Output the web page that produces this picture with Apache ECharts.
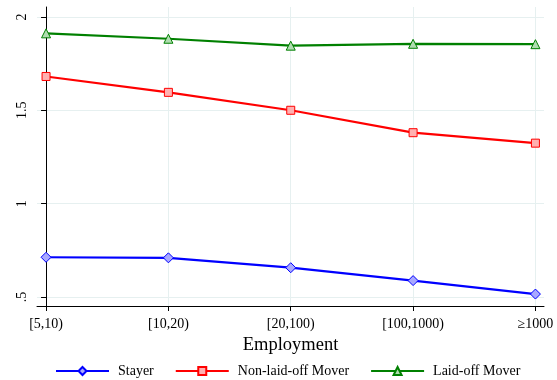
<!DOCTYPE html>
<html><head><meta charset="utf-8">
<script src="https://cdn.jsdelivr.net/npm/echarts@6/dist/echarts.min.js"></script>
<style>html,body{margin:0;padding:0;background:#fff}#c{width:557px;height:380px}</style>
</head><body><div id="c"></div>
<script>
const categories = ['[5,10)', '[10,20)', '[20,100)', '[100,1000)', '\u22651000'];
const stayer = [0.713, 0.710, 0.657, 0.588, 0.516];
const nonLaidOff = [1.681, 1.596, 1.500, 1.380, 1.324];
const laidOff = [1.912, 1.883, 1.846, 1.856, 1.854];
const yTicks = [0.5, 1, 1.5, 2];
const yTickLabels = ['.5', '1', '1.5', '2'];

const font = 'Liberation Serif';
const chart = echarts.init(document.getElementById('c'), null, {renderer: 'canvas'});
function pts(arr){ return arr.map((v,i)=>[i,v]); }
function mk(name, data, color, fill, symbol, size){
  return {name, type:'line', data:pts(data), symbol, symbolSize:size,
    lineStyle:{color, width:2.2}, itemStyle:{color:fill, borderColor:color, borderWidth:1},
    emphasis:{disabled:true}, animation:false, z:3};
}
chart.setOption({
  animation:false,
  backgroundColor:'#fff',
  grid:{left:37, right:13, top:7, bottom:74, containLabel:false},
  xAxis:{type:'value', min:-0.074, max:4.07,
    axisLine:{show:true, lineStyle:{color:'#000', width:1}},
    axisTick:{show:true, length:5, lineStyle:{color:'#000'}, customValues:[0,1,2,3,4]},
    axisLabel:{customValues:[0,1,2,3,4], formatter:v=>categories[Math.round(v)], color:'#000', fontFamily:font, fontSize:14, margin:11},
    splitLine:{show:true, lineStyle:{color:'#e6f0f0', width:1}},
    name:'Employment', nameLocation:'middle', nameGap:21, nameTextStyle:{color:'#000', fontFamily:font, fontSize:18.5}},
  yAxis:{type:'value', min:0.452, max:2.053,
    axisLine:{show:true, lineStyle:{color:'#000', width:1}},
    axisTick:{show:true, length:5, lineStyle:{color:'#000'}, customValues:yTicks},
    axisLabel:{customValues:yTicks, rotate:90, formatter:v=>yTickLabels[yTicks.indexOf(v)] ?? '', color:'#000', fontFamily:font, fontSize:14, margin:8},
    splitLine:{show:true, lineStyle:{color:'#e6f0f0', width:1}}},
  legend:{bottom:-3, left:50, itemWidth:53, itemHeight:10, itemGap:21,
    textStyle:{color:'#000', fontFamily:font, fontSize:14, padding:[0,0,0,4]},
    data:['Stayer','Non-laid-off Mover','Laid-off Mover']},
  series:[
    mk('Stayer', stayer, '#0000ff', '#a8a8ff', 'diamond', 10),
    mk('Non-laid-off Mover', nonLaidOff, '#ff0000', '#ffb0b0', 'rect', 8),
    mk('Laid-off Mover', laidOff, '#008000', '#b0dcb0', 'triangle', 9)
  ]
});
</script></body></html>
